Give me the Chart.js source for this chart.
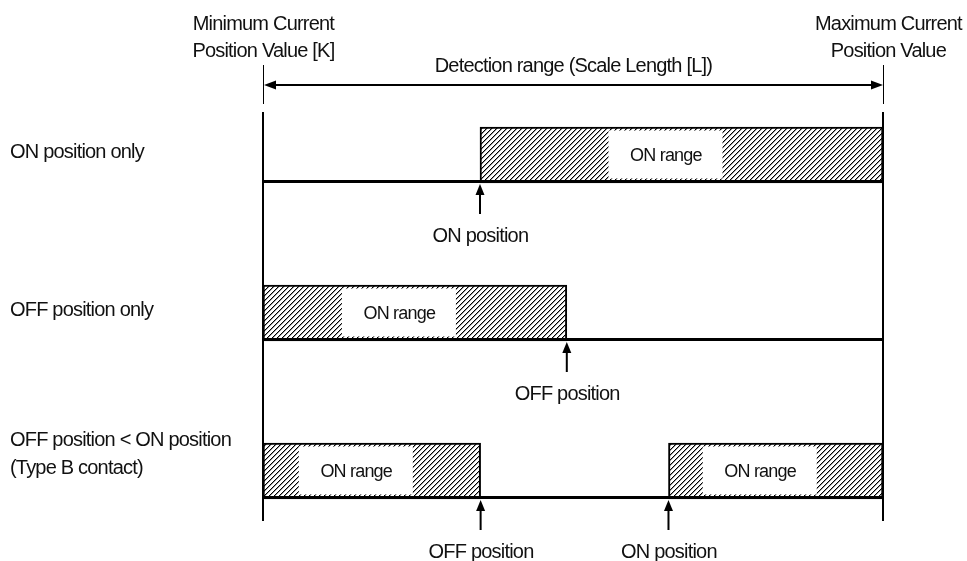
<!DOCTYPE html>
<html><head><meta charset="utf-8">
<script src="https://cdn.jsdelivr.net/npm/chart.js@4.4.1/dist/chart.umd.min.js"></script>
<style>html,body{margin:0;padding:0;background:#fff}#wrap{width:967px;height:561px}</style>
</head><body><div id="wrap"><canvas id="c" width="967" height="561"></canvas></div>
<script>
// ---- data ----
const rowLabels = [['ON position only'], ['OFF position only'], ['OFF position < ON position', '(Type B contact)']];
const scaleMin = 0;     // Minimum Current Position Value [K]
const scaleMax = 100;   // K + Scale Length [L]
const onPositions  = [35, null, 65.4];
const offPositions = [null, 49, 35.1];
const rangeLabel = 'ON range';
const minLabel = ['Minimum Current', 'Position Value [K]'];
const maxLabel = ['Maximum Current', 'Position Value'];
const spanLabel = 'Detection range (Scale Length [L])';
const onPosLabel = 'ON position';
const offPosLabel = 'OFF position';

// ---- style ----
const FONT = "'Liberation Sans', Arial, sans-serif";
const BAR_T = 56;

function makeHatch() {
  const c = document.createElement('canvas');
  c.width = 5; c.height = 5;
  const g = c.getContext('2d');
  g.fillStyle = '#fff'; g.fillRect(0, 0, 5, 5);
  for (let i = 0; i < 5; i++) {
    g.fillStyle = '#000'; g.fillRect(i, 4 - i, 1, 1);
    g.fillStyle = '#999'; g.fillRect(i, (5 - i) % 5, 1, 1);
  }
  return g.createPattern(c, 'repeat');
}
const hatch = makeHatch();

function txt(ctx, s, x, y, size, ls, align) {
  ctx.save();
  ctx.font = size + 'px ' + FONT;
  ctx.letterSpacing = ls + 'px';
  ctx.fillStyle = '#111';
  ctx.textBaseline = 'alphabetic';
  const w = ctx.measureText(s).width;
  let sx = x;
  if (align === 'center') sx = x - w / 2 - ls / 2;
  ctx.textAlign = 'left';
  ctx.fillText(s, sx, y);
  ctx.restore();
}

function upArrow(ctx, x, tipY, len) {
  ctx.save();
  ctx.fillStyle = '#000'; ctx.strokeStyle = '#000';
  ctx.lineWidth = 2;
  ctx.beginPath(); ctx.moveTo(x, tipY + 8); ctx.lineTo(x, tipY + len); ctx.stroke();
  ctx.beginPath(); ctx.moveTo(x, tipY); ctx.lineTo(x - 4.5, tipY + 11); ctx.lineTo(x + 4.5, tipY + 11); ctx.closePath(); ctx.fill();
  ctx.restore();
}

const overlay = {
  id: 'overlay',
  beforeDatasetsDraw(chart) {
    const ctx = chart.ctx, xs = chart.scales.x, ys = chart.scales.y;
    const L = xs.getPixelForValue(scaleMin), R = xs.getPixelForValue(scaleMax);
    const n = rowLabels.length;
    const firstTop = ys.getPixelForValue(0) - BAR_T / 2;
    const lastBot = ys.getPixelForValue(n - 1) + BAR_T / 2;
    ctx.save();
    ctx.strokeStyle = '#000';
    ctx.lineWidth = 2;
    [L, R].forEach(x => { ctx.beginPath(); ctx.moveTo(x, firstTop - 15); ctx.lineTo(x, lastBot + 22); ctx.stroke(); });
    ctx.restore();
  },
  afterDatasetsDraw(chart) {
    const ctx = chart.ctx, xs = chart.scales.x, ys = chart.scales.y;
    const L = xs.getPixelForValue(scaleMin), R = xs.getPixelForValue(scaleMax);
    const n = rowLabels.length;
    // baselines (over bar bottoms)
    ctx.save();
    ctx.strokeStyle = '#000'; ctx.lineWidth = 3;
    for (let i = 0; i < n; i++) {
      const b = ys.getPixelForValue(i) + BAR_T / 2 - 1.5;
      ctx.beginPath(); ctx.moveTo(L, b); ctx.lineTo(R, b); ctx.stroke();
    }
    ctx.restore();
    // "ON range" label boxes
    chart.data.datasets.forEach((ds, di) => {
      const meta = chart.getDatasetMeta(di);
      meta.data.forEach((el, i) => {
        if (ds.data[i] == null) return;
        const left = Math.min(el.x, el.base), right = Math.max(el.x, el.base);
        const cx = (left + right) / 2 - 16;
        const cy = el.y;
        ctx.save();
        ctx.fillStyle = '#fff';
        ctx.fillRect(cx - 57, cy - BAR_T / 2 + 3.5, 114, BAR_T - 8);
        ctx.restore();
        txt(ctx, rangeLabel, cx, cy + 6, 18, -0.8, 'center');
      });
    });
    // position arrows, labels, row labels
    for (let i = 0; i < n; i++) {
      const bot = ys.getPixelForValue(i) + BAR_T / 2;
      [[onPositions[i], onPosLabel], [offPositions[i], offPosLabel]].forEach(([v, lab]) => {
        if (v == null) return;
        const x = xs.getPixelForValue(v);
        upArrow(ctx, x, bot + 1, 30);
        txt(ctx, lab, x, bot + 59, 20, -0.8, 'center');
      });
      const lines = rowLabels[i];
      const cy = ys.getPixelForValue(i);
      lines.forEach((s, k) => {
        txt(ctx, s, 10, cy + 3 - (lines.length - 1 - k) * 28, 20, -0.8, 'left');
      });
    }
    // top ticks and detection arrow
    ctx.save();
    ctx.strokeStyle = '#000'; ctx.fillStyle = '#000';
    ctx.lineWidth = 1;
    [L, R].forEach(x => { ctx.beginPath(); ctx.moveTo(x + 0.5, 65); ctx.lineTo(x + 0.5, 104); ctx.stroke(); });
    const ay = 85;
    ctx.lineWidth = 2;
    ctx.beginPath(); ctx.moveTo(L + 8, ay); ctx.lineTo(R - 8, ay); ctx.stroke();
    ctx.beginPath(); ctx.moveTo(L + 1, ay); ctx.lineTo(L + 13, ay - 4.5); ctx.lineTo(L + 13, ay + 4.5); ctx.closePath(); ctx.fill();
    ctx.beginPath(); ctx.moveTo(R, ay); ctx.lineTo(R - 12, ay - 4.5); ctx.lineTo(R - 12, ay + 4.5); ctx.closePath(); ctx.fill();
    ctx.restore();
    txt(ctx, spanLabel, (L + R) / 2, 72, 20, -0.8, 'center');
    minLabel.forEach((s, k) => txt(ctx, s, L, 30 + k * 27, 20, -0.8, 'center'));
    maxLabel.forEach((s, k) => txt(ctx, s, R + 5, 30 + k * 27, 20, -0.8, 'center'));
  }
};

new Chart(document.getElementById('c'), {
  type: 'bar',
  data: {
    labels: rowLabels.map(l => l.join(' ')),
    datasets: [
      {
        label: 'ON range (ON position to maximum)',
        data: onPositions.map(v => v == null ? null : [v, scaleMax]),
        backgroundColor: hatch, borderColor: '#000', borderWidth: 2,
        borderSkipped: false, barThickness: BAR_T, grouped: false
      },
      {
        label: 'ON range (minimum to OFF position)',
        data: offPositions.map(v => v == null ? null : [scaleMin, v]),
        backgroundColor: hatch, borderColor: '#000', borderWidth: 2,
        borderSkipped: false, barThickness: BAR_T, grouped: false
      }
    ]
  },
  options: {
    indexAxis: 'y',
    responsive: false,
    animation: false,
    layout: { padding: { left: 263, right: 84, top: 76, bottom: 11 } },
    scales: {
      x: { type: 'linear', min: scaleMin, max: scaleMax, display: false },
      y: { type: 'category', offset: true, display: false }
    },
    plugins: { legend: { display: false }, tooltip: { enabled: false } }
  },
  plugins: [overlay]
});
</script></body></html>
